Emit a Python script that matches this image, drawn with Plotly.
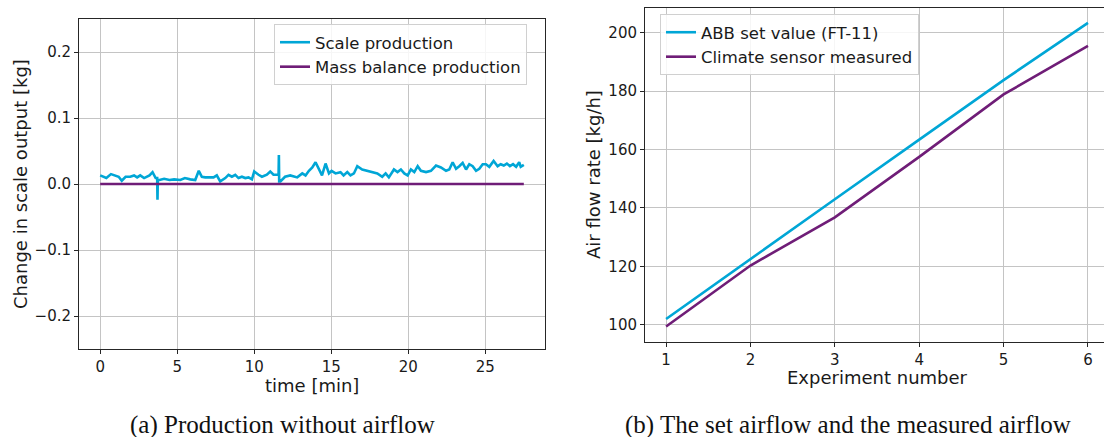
import plotly.graph_objects as go

# ---------------- data ----------------
# (a) Production without airflow
time_min = [0.0, 0.2, 0.4, 0.7, 0.9, 1.2, 1.4, 1.65, 1.95, 2.2, 2.4, 2.6, 2.85, 3.2, 3.4, 3.6, 3.70, 3.72, 3.74,
            3.85, 4.15, 4.5, 4.8, 5.2, 5.5, 5.85, 6.17, 6.4, 6.6, 6.82, 7.03, 7.36, 7.57, 7.79, 8.12,
            8.33, 8.55, 8.77, 8.98, 9.2, 9.42, 9.63, 9.85, 10.0, 10.28, 10.5, 10.82, 11.04, 11.25, 11.5,
            11.58, 11.6, 11.62, 11.7, 12.0, 12.34, 12.66, 12.79, 13.12, 13.33, 13.55, 13.77, 13.98, 14.2,
            14.4, 14.63, 14.85, 15.02, 15.28, 15.6, 15.8, 16.04, 16.25, 16.47, 16.69, 17.01, 17.34, 17.66,
            17.99, 18.31, 18.53, 18.74, 19.07, 19.3, 19.52, 19.74, 19.96, 20.17, 20.39, 20.61, 20.82,
            21.15, 21.47, 21.8, 22.12, 22.45, 22.66, 22.88, 23.1, 23.31, 23.53, 23.75, 23.96, 24.18,
            24.4, 24.61, 24.83, 25.04, 25.26, 25.54, 25.8, 26.0, 26.2, 26.4, 26.6, 26.8, 27.0, 27.2, 27.3, 27.5]
scale_production = [0.013, 0.011, 0.009, 0.015, 0.013, 0.011, 0.005, 0.011, 0.011, 0.013, 0.010, 0.013, 0.009,
                    0.013, 0.018, 0.009, 0.009, -0.024, 0.006,
                    0.006, 0.008, 0.006, 0.007, 0.006, 0.009, 0.007, 0.006, 0.020, 0.011, 0.010, 0.010,
                    0.010, 0.013, 0.004, 0.009, 0.014, 0.011, 0.014, 0.009, 0.011, 0.009, 0.010, 0.007,
                    0.019, 0.014, 0.011, 0.014, 0.019, 0.014, 0.014,
                    0.014, 0.044, 0.004, 0.004, 0.011, 0.013, 0.011, 0.010, 0.016, 0.013, 0.020, 0.025,
                    0.033, 0.023, 0.013, 0.031, 0.016, 0.020, 0.016, 0.018, 0.013, 0.018, 0.013, 0.016,
                    0.027, 0.022, 0.020, 0.018, 0.016, 0.011, 0.016, 0.010, 0.022, 0.018, 0.022, 0.016,
                    0.013, 0.022, 0.018, 0.027, 0.020, 0.018, 0.020, 0.028, 0.025, 0.020, 0.022, 0.033,
                    0.023, 0.027, 0.032, 0.022, 0.030, 0.027, 0.020, 0.023, 0.030, 0.030, 0.026, 0.035,
                    0.027, 0.030, 0.028, 0.031, 0.027, 0.030, 0.026, 0.033, 0.026, 0.029]
mass_balance_time = [0.0, 27.5]
mass_balance_production = [0.0, 0.0]

# (b) The set airflow and the measured airflow
experiment = [1, 2, 3, 4, 5, 6]
abb_set_value = [102.0, 122.6, 143.0, 163.4, 183.8, 203.4]
climate_measured = [99.4, 120.3, 136.8, 157.5, 178.9, 195.5]

left_xticks = [0, 5, 10, 15, 20, 25]
left_yticks = [-0.2, -0.1, 0.0, 0.1, 0.2]
right_yticks = [100, 120, 140, 160, 180, 200]

captions = ["(a) Production without airflow", "(b) The set airflow and the measured airflow"]

# ---------------- style ----------------
CYAN = "#00A6D6"
PURPLE = "#6F1D77"
GRID = "#c4c4c4"
SPINE = "#262626"
FONT = "DejaVu Sans"
W, H = 1104, 437

fig = go.Figure()

fig.add_trace(go.Scatter(x=time_min, y=scale_production, mode="lines", name="Scale production",
                         line=dict(color=CYAN, width=2.6), xaxis="x", yaxis="y", legend="legend"))
fig.add_trace(go.Scatter(x=mass_balance_time, y=mass_balance_production, mode="lines",
                         name="Mass balance production",
                         line=dict(color=PURPLE, width=2.6), xaxis="x", yaxis="y", legend="legend"))
fig.add_trace(go.Scatter(x=experiment, y=abb_set_value, mode="lines", name="ABB set value (FT-11)",
                         line=dict(color=CYAN, width=2.6), xaxis="x2", yaxis="y2", legend="legend2"))
fig.add_trace(go.Scatter(x=experiment, y=climate_measured, mode="lines", name="Climate sensor measured",
                         line=dict(color=PURPLE, width=2.6), xaxis="x2", yaxis="y2", legend="legend2"))

def px_x(p):
    return p / W

def px_y(p):
    return (H - p) / H

axis_common = dict(showgrid=True, gridcolor=GRID, gridwidth=1, zeroline=False,
                   showline=True, linecolor=SPINE, linewidth=1, ticks="outside",
                   ticklen=4, tickcolor=SPINE, tickfont=dict(family=FONT, size=15, color="#1a1a1a"))

legend_common = dict(xanchor="left", yanchor="top", bgcolor="rgba(255,255,255,0.85)",
                     bordercolor="#d0d0d0", borderwidth=1,
                     font=dict(family=FONT, size=16.5, color="#1a1a1a"))

fig.update_layout(
    width=W, height=H,
    margin=dict(l=0, r=0, t=0, b=0),
    paper_bgcolor="white", plot_bgcolor="white",
    showlegend=True,
    xaxis=dict(domain=[px_x(79), px_x(545)], range=[-1.375, 28.875], tickvals=left_xticks,
               mirror=True, anchor="y", **axis_common),
    yaxis=dict(domain=[px_y(349), px_y(19)], range=[-0.25, 0.25], tickvals=left_yticks,
               tickformat=".1f", mirror=True, anchor="x", **axis_common),
    xaxis2=dict(domain=[px_x(645), 1.0], range=[0.75, 6.19], tickvals=experiment,
                mirror=True, anchor="y2", **axis_common),
    yaxis2=dict(domain=[px_y(342), px_y(8)], range=[94.1, 208.5], tickvals=right_yticks,
                mirror=False, anchor="x2", **axis_common),
    legend=dict(x=px_x(274), y=px_y(24), **legend_common),
    legend2=dict(x=px_x(660), y=px_y(14), **legend_common),
)

title_font = dict(family=FONT, size=18, color="#1a1a1a")
cap_font = dict(family="Liberation Serif", size=25, color="#111")
annotations = [
    dict(text="time [min]", x=px_x(312), y=px_y(385), xref="paper", yref="paper",
         showarrow=False, font=title_font, xanchor="center", yanchor="middle"),
    dict(text="Change in scale output [kg]", x=px_x(20), y=px_y(184), xref="paper", yref="paper",
         showarrow=False, font=title_font, textangle=-90, xanchor="center", yanchor="middle"),
    dict(text="Experiment number", x=px_x(877), y=px_y(377), xref="paper", yref="paper",
         showarrow=False, font=title_font, xanchor="center", yanchor="middle"),
    dict(text="Air flow rate [kg/h]", x=px_x(593), y=px_y(175), xref="paper", yref="paper",
         showarrow=False, font=title_font, textangle=-90, xanchor="center", yanchor="middle"),
    dict(text=captions[0], x=px_x(282), y=px_y(425), xref="paper", yref="paper",
         showarrow=False, font=cap_font, xanchor="center", yanchor="middle"),
    dict(text=captions[1], x=px_x(848), y=px_y(425), xref="paper", yref="paper",
         showarrow=False, font=cap_font, xanchor="center", yanchor="middle"),
]
fig.update_layout(annotations=annotations)

fig.write_html("out.html")
